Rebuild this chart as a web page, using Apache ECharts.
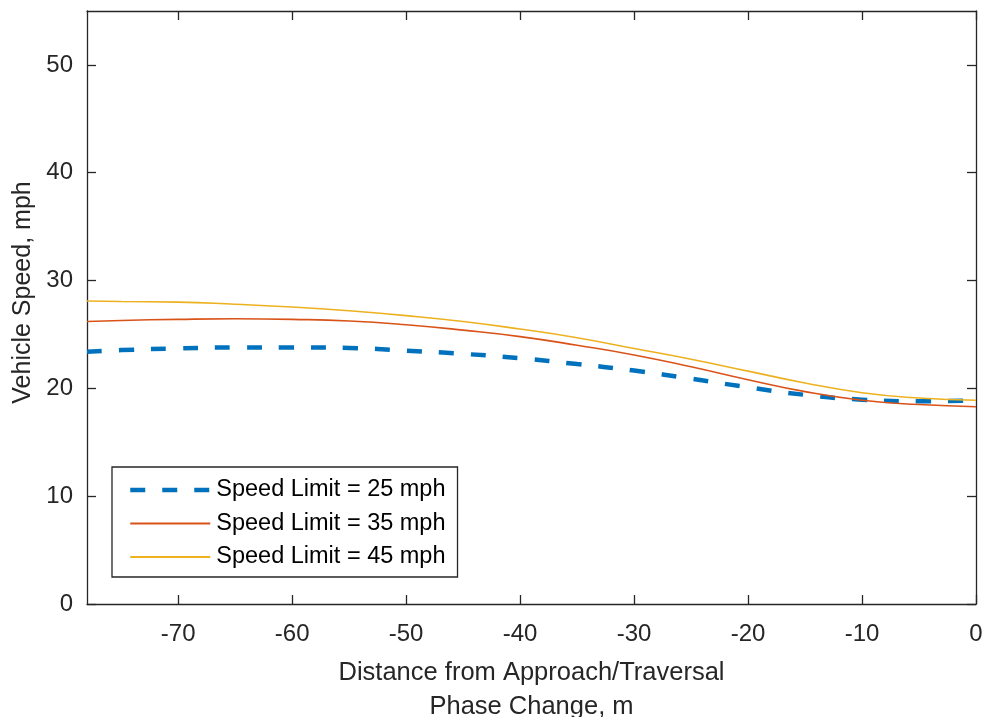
<!DOCTYPE html>
<html>
<head>
<meta charset="utf-8">
<script src="https://cdn.jsdelivr.net/npm/echarts@6/dist/echarts.min.js"></script>
<style>html,body{margin:0;padding:0;background:#fff;}#c{width:984px;height:717px;}</style>
</head>
<body>
<div id="c"></div>
<script>
const distance = [-78, -75, -70, -65, -60, -55, -50, -45, -40, -35, -30, -25, -20, -15, -10, -5, 0];
const speed25 = [23.4, 23.55, 23.7, 23.8, 23.8, 23.75, 23.5, 23.2, 22.8, 22.25, 21.65, 20.9, 20.1, 19.4, 18.95, 18.8, 18.9];
const speed35 = [26.2, 26.3, 26.4, 26.45, 26.4, 26.25, 25.9, 25.4, 24.8, 24.0, 23.1, 22.0, 20.8, 19.7, 18.9, 18.5, 18.3];
const speed45 = [28.1, 28.05, 28.0, 27.8, 27.55, 27.2, 26.75, 26.2, 25.5, 24.7, 23.7, 22.7, 21.6, 20.5, 19.6, 19.1, 18.9];
const seriesNames = ['Speed Limit = 25 mph', 'Speed Limit = 35 mph', 'Speed Limit = 45 mph'];
const xTicks = [-70, -60, -50, -40, -30, -20, -10, 0];
const yTicks = [0, 10, 20, 30, 40, 50];
const xTitle = 'Distance from Approach/Traversal\nPhase Change, m';
const yTitle = 'Vehicle Speed, mph';

const pairs = arr => distance.map((d, i) => [d, arr[i]]);
const txt = '#262626';
const font = 'Liberation Sans, Arial, Helvetica, sans-serif';
const chart = echarts.init(document.getElementById('c'), null, {renderer: 'canvas'});
chart.setOption({
  animation: false,
  backgroundColor: '#fff',
  grid: {left: 87, right: 8, top: 11, bottom: 113, containLabel: false, outerBoundsMode: 'none'},
  legend: {
    left: 112, top: 467, orient: 'vertical',
    borderColor: txt, borderWidth: 1.3, backgroundColor: '#fff',
    padding: [11, 12, 8, 16],
    itemWidth: 80, itemHeight: 14, itemGap: 9.5,
    itemStyle: {opacity: 0},
    textStyle: {fontSize: 23.5, color: '#000', fontFamily: font, lineHeight: 24, padding: [0, 0, 0, 1]},
    data: [
      {name: seriesNames[0], lineStyle: {width: 4.5, type: [15, 17], color: '#0072BD'}},
      {name: seriesNames[1]},
      {name: seriesNames[2]}
    ]
  },
  xAxis: [{
    type: 'value', min: -78, max: 0,
    name: xTitle, nameLocation: 'middle', nameGap: 52,
    nameTextStyle: {fontSize: 25.5, color: txt, fontFamily: font, lineHeight: 34},
    axisLine: {show: true, onZero: false, lineStyle: {color: txt, width: 1.3}},
    axisTick: {show: true, inside: true, length: 9, customValues: xTicks, lineStyle: {color: txt, width: 1.3}},
    axisLabel: {customValues: xTicks, fontSize: 24, color: txt, fontFamily: font, margin: 18},
    splitLine: {show: false}
  }, {
    type: 'value', min: -78, max: 0, position: 'top',
    axisLine: {show: true, onZero: false, lineStyle: {color: txt, width: 1.3}},
    axisTick: {show: true, inside: true, length: 9, customValues: xTicks, lineStyle: {color: txt, width: 1.3}},
    axisLabel: {show: false}, splitLine: {show: false}
  }],
  yAxis: [{
    type: 'value', min: 0, max: 55,
    name: yTitle, nameLocation: 'middle', nameGap: 49, nameRotate: 90,
    nameTextStyle: {fontSize: 25, color: txt, fontFamily: font, padding: [0, 0, 0, 30]},
    axisLine: {show: true, onZero: false, lineStyle: {color: txt, width: 1.3}},
    axisTick: {show: true, inside: true, length: 9, customValues: yTicks, lineStyle: {color: txt, width: 1.3}},
    axisLabel: {customValues: yTicks, fontSize: 24, color: txt, fontFamily: font, margin: 14},
    splitLine: {show: false}
  }, {
    type: 'value', min: 0, max: 55, position: 'right',
    axisLine: {show: true, onZero: false, lineStyle: {color: txt, width: 1.3}},
    axisTick: {show: true, inside: true, length: 9, customValues: yTicks, lineStyle: {color: txt, width: 1.3}},
    axisLabel: {show: false}, splitLine: {show: false}
  }],
  series: [
    {name: seriesNames[0], type: 'line', data: pairs(speed25), smooth: 0.5, symbol: 'none', clip: true,
     lineStyle: {color: '#0072BD', width: 4.5, type: [15, 17], cap: 'butt'}, itemStyle: {color: '#0072BD'}},
    {name: seriesNames[1], type: 'line', data: pairs(speed35), smooth: 0.5, symbol: 'none', clip: true,
     lineStyle: {color: '#D95319', width: 1.6}, itemStyle: {color: '#D95319'}},
    {name: seriesNames[2], type: 'line', data: pairs(speed45), smooth: 0.5, symbol: 'none', clip: true,
     lineStyle: {color: '#EDB120', width: 1.6}, itemStyle: {color: '#EDB120'}}
  ]
});
</script>
</body>
</html>
